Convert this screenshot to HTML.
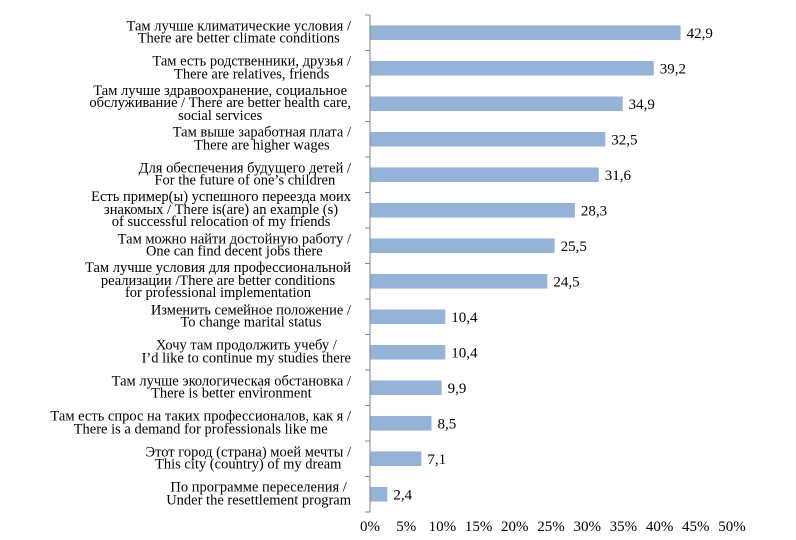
<!DOCTYPE html>
<html><head><meta charset="utf-8">
<style>
html,body{margin:0;padding:0;background:#fff;}
#chart{position:relative;width:796px;height:540px;overflow:hidden;font-family:"Liberation Serif","DejaVu Serif",serif;color:#000;}
.lbl{position:absolute;right:445px;text-align:center;white-space:pre;font-size:14.5px;line-height:12.6px;transform:translateY(-50%);}
svg{position:absolute;left:0;top:0;}
</style></head>
<body>
<div id="chart">
<svg id="svg" width="796" height="540"></svg>
</div>
<script>
const categories = [
 "Там лучше климатические условия /\nThere are better climate conditions",
 "Там есть родственники, друзья /\nThere are relatives, friends",
 "Там лучше здравоохранение, социальное\nобслуживание / There are better health care,\nsocial services",
 "Там выше заработная плата /\nThere are higher wages",
 "Для обеспечения будущего детей /\nFor the future of one’s children",
 "Есть пример(ы) успешного переезда моих\nзнакомых / There is(are) an example (s)\nof successful relocation of my friends",
 "Там можно найти достойную работу /\nOne can find decent jobs there",
 "Там лучше условия для профессиональной\nреализации /There are better conditions\nfor professional implementation",
 "Изменить семейное положение /\nTo change marital status",
 "Хочу там продолжить учебу /\nI’d like to continue my studies there",
 "Там лучше экологическая обстановка /\nThere is better environment",
 "Там есть спрос на таких профессионалов, как я /\nThere is a demand for professionals like me",
 "Этот город (страна) моей мечты /\nThis city (country) of my dream",
 "По программе переселения /\nUnder the resettlement program"
];
const values = [42.9,39.2,34.9,32.5,31.6,28.3,25.5,24.5,10.4,10.4,9.9,8.5,7.1,2.4];
const valueLabels = ["42,9","39,2","34,9","32,5","31,6","28,3","25,5","24,5","10,4","10,4","9,9","8,5","7,1","2,4"];
const ticks = [0,5,10,15,20,25,30,35,40,45,50];
const tickLabels = ["0%","5%","10%","15%","20%","25%","30%","35%","40%","45%","50%"];

const X0=370, X1=732, TOP=15, BOT=512;
const xs = v => X0 + (v/50)*(X1-X0);
const band = (BOT-TOP)/categories.length;
const yc = i => TOP + band*(i+0.5);
const NS="http://www.w3.org/2000/svg";
const svg=document.getElementById('svg');
const chart=document.getElementById('chart');
function mk(tag,attrs){const e=document.createElementNS(NS,tag);for(const k in attrs)e.setAttribute(k,attrs[k]);svg.appendChild(e);return e;}

values.forEach((v,i)=>{
  const r=mk('rect',{x:X0,y:yc(i)-7.3,width:xs(v)-X0,height:14.6,fill:'#95b3d7'});
  
  
  const t=mk('text',{x:xs(v)+6,y:yc(i)+5,'font-size':'15','font-family':'Liberation Serif, serif'});
  t.textContent=valueLabels[i];
  
  
  const d=document.createElement('div');
  d.className='lbl';d.style.top=yc(i)+'px';d.textContent=categories[i];
  
  
  chart.appendChild(d);
});
const ax=mk('line',{x1:X0,y1:TOP,x2:X0,y2:BOT,stroke:'#868686','stroke-width':1});


for(let i=0;i<=categories.length;i++){
  const y=TOP+band*i;
  const tk=mk('line',{x1:X0-5,y1:y,x2:X0,y2:y,stroke:'#868686','stroke-width':1});
  
  
}
ticks.forEach((v,i)=>{
  const t=mk('text',{x:xs(v),y:BOT+19,'text-anchor':'middle','font-size':'15','font-family':'Liberation Serif, serif'});
  t.textContent=tickLabels[i];
  
  
});
</script>
</body></html>
